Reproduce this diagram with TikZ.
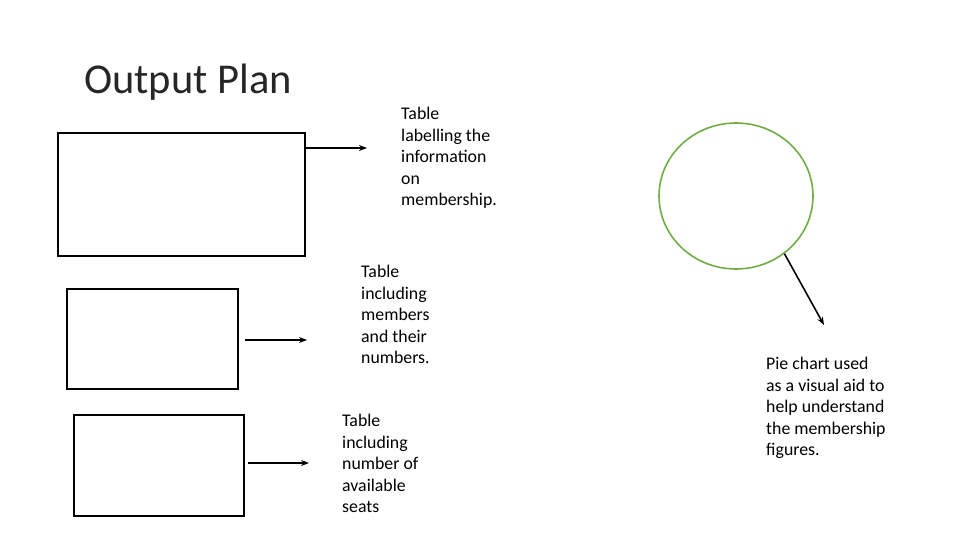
\documentclass[tikz,border=0pt]{standalone}
\usepackage{fontspec}
\setmainfont{Carlito}
\usetikzlibrary{arrows.meta,shapes.geometric}
\definecolor{piegreen}{RGB}{112,173,71}
\begin{document}
\begin{tikzpicture}[x=1pt,y=-1pt,>={Stealth[length=8pt,width=6pt]},
  box/.style={draw,line width=2.2pt,inner sep=0pt,anchor=north west},
  note/.style={anchor=north west,align=left,inner sep=0pt,font=\fontsize{17.8}{21.6}\selectfont},
  link/.style={->,line width=1.6pt}]
\useasboundingbox (0,0) rectangle (960,540);
\node[anchor=west,inner sep=0pt,font=\fontsize{42.5}{50}\selectfont,text=black!85] (title) at (84,82) {Output Plan};
\node[box,minimum width=247pt,minimum height=123pt] (box1) at (57,132) {};
\node[box,minimum width=171pt,minimum height=100pt] (box2) at (66,288) {};
\node[box,minimum width=170pt,minimum height=101pt] (box3) at (73,414) {};
\node[ellipse,draw=piegreen,line width=1.6pt,minimum width=154pt,minimum height=146pt,inner sep=0pt] (pie) at (736,196) {};
\node[note] (txt1) at (401,107) {Table\\labelling the\\information\\on\\membership.};
\node[note] (txt2) at (361,265) {Table\\including\\members\\and their\\numbers.};
\node[note] (txt3) at (342,414) {Table\\including\\number of\\available\\seats};
\node[note] (txt4) at (766,357) {Pie chart used\\as a visual aid to\\help understand\\the membership\\figures.};
\coordinate (tip1) at (367,148);
\coordinate (tip2) at (307,340);
\coordinate (tip3) at (309,463);
\coordinate (tip4) at (824,325);
\draw[link] (box1.east |- tip1) -- (tip1);
\draw[link] ([xshift=6pt]box2.east |- tip2) -- (tip2);
\draw[link] ([xshift=3pt]box3.east |- tip3) -- (tip3);
\draw[link] (pie.-50) -- (tip4);
\end{tikzpicture}
\end{document}
